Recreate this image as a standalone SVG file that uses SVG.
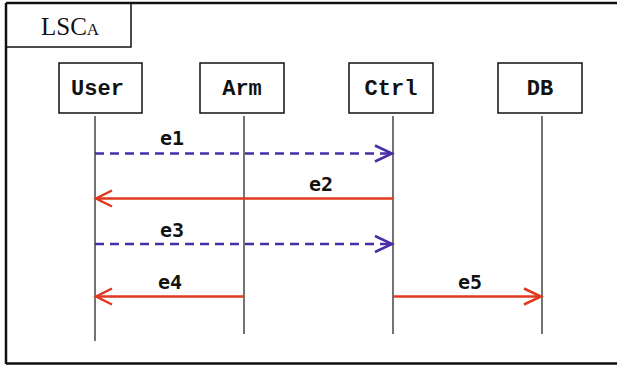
<svg xmlns="http://www.w3.org/2000/svg" width="617" height="365" viewBox="0 0 617 365">
<style>
.frame{fill:none;stroke:#111;stroke-width:2.5}
.box{fill:#fff;stroke:#111;stroke-width:1.5}
.lbl{font-family:"Liberation Mono","Courier New",monospace;font-weight:bold;font-size:22px;fill:#111;text-anchor:middle}
.life{stroke:#444;stroke-width:1.5}
.msg{font-family:"DejaVu Sans Mono","Liberation Mono",monospace;font-weight:bold;font-size:20px;fill:#111;text-anchor:middle}
.async{stroke:#4a2ea6;stroke-width:2.5;fill:none;stroke-dasharray:9 6}
.sync{stroke:#e0391f;stroke-width:2.5;fill:none}
.hp{stroke:#4a2ea6;stroke-width:2.5;fill:none}
.hr{stroke:#e0391f;stroke-width:2.5;fill:none}
</style>
<rect x="0" y="0" width="617" height="365" fill="#fff"/>
<g id="frame">
<path class="frame" d="M6,3 H617 M6,3 V364 M6,363.5 H617"/>
<path class="frame" d="M6,47 H131 V3" style="stroke-width:1.5"/>
<text x="41" y="34.5" font-family="Liberation Serif,Times New Roman,serif" font-size="25" fill="#111">LSC<tspan font-size="17">A</tspan></text>
</g>
<g id="User"><rect class="box" x="59" y="63" width="83" height="50"/><text class="lbl" x="97.5" y="95">User</text><line class="life" x1="95" y1="116" x2="95" y2="341"/></g>
<g id="Arm"><rect class="box" x="200" y="63" width="84" height="50"/><text class="lbl" x="242" y="95">Arm</text><line class="life" x1="244" y1="116" x2="244" y2="334"/></g>
<g id="Ctrl"><rect class="box" x="349" y="63" width="84" height="50"/><text class="lbl" x="391" y="95">Ctrl</text><line class="life" x1="393" y1="116" x2="393" y2="334"/></g>
<g id="DB"><rect class="box" x="498" y="63" width="84" height="50"/><text class="lbl" x="540" y="95">DB</text><line class="life" x1="542" y1="116" x2="542" y2="334"/></g>
<g id="connectors">
<line class="async" x1="95" y1="153.5" x2="391" y2="153.5"/>
<path class="hp" d="M375,145.5 L392,153.5 L375,161.5"/>
<text class="msg" x="172" y="145">e1</text>
<line class="sync" x1="393" y1="198.5" x2="97" y2="198.5"/>
<path class="hr" d="M112,190.5 L96,198.5 L112,206.5"/>
<text class="msg" x="321" y="191">e2</text>
<line class="async" x1="95" y1="244" x2="391" y2="244"/>
<path class="hp" d="M375,236 L392,244 L375,252"/>
<text class="msg" x="172" y="236.5">e3</text>
<line class="sync" x1="244" y1="296.5" x2="97" y2="296.5"/>
<path class="hr" d="M112,288.5 L96,296.5 L112,304.5"/>
<text class="msg" x="170" y="289">e4</text>
<line class="sync" x1="393" y1="296.5" x2="540" y2="296.5"/>
<path class="hr" d="M524,288.5 L541,296.5 L524,304.5"/>
<text class="msg" x="470" y="289">e5</text>
</g>
</svg>
